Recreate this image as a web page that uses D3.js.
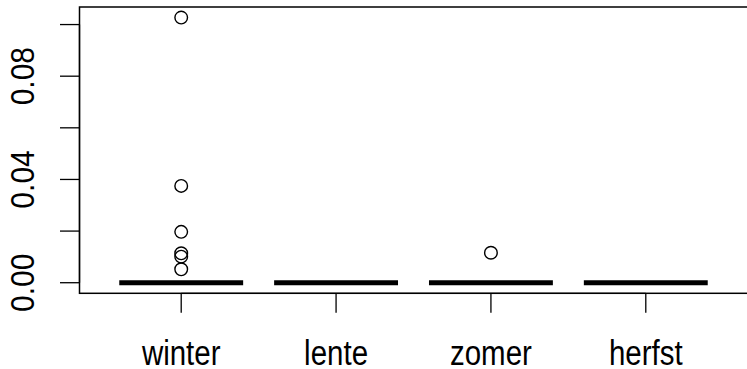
<!DOCTYPE html>
<html lang="en">
<head>
    <meta charset="UTF-8">
    <title>Boxplot per seizoen</title>
    <script src="https://d3js.org/d3.v7.min.js"></script>
    <style>
        body { margin: 0; background: white; }
        svg { display: block; }
        text { font-family: "Liberation Sans", Arial, sans-serif; fill: black; }
    </style>
</head>
<body>
<script>
// Data per season
var seasons = ['winter', 'lente', 'zomer', 'herfst'];
var q1 = [0, 0, 0, 0];
var medians = [0, 0, 0, 0];
var q3 = [0, 0, 0, 0];
var whiskerLow = [0, 0, 0, 0];
var whiskerHigh = [0, 0, 0, 0];
var outliers = [
    [0.1027, 0.0375, 0.0197, 0.0114, 0.0101, 0.0052],
    [],
    [0.0116],
    []
];
var yTicks = [0, 0.02, 0.04, 0.06, 0.08, 0.10];
var yLabelled = [0, 0.04, 0.08];

var svgWidth = 747, svgHeight = 369;
var plotLeft = 79.5, plotTop = 7, plotBottom = 293.3;

var svg = d3.select('body').append('svg')
    .attr('width', svgWidth)
    .attr('height', svgHeight);

// scales, R style: xlim 0.5..4.5 plus 4 percent
var x = d3.scaleLinear().domain([0.34, 4.66]).range([79, 748]);
var y = d3.scaleLinear().domain([-0.0041, 0.1068]).range([plotBottom, plotTop]);
var boxW = 0.8;

// frame
svg.append('rect')
    .attr('x', plotLeft)
    .attr('y', plotTop)
    .attr('width', 760 - plotLeft)
    .attr('height', plotBottom - plotTop)
    .attr('fill', 'none')
    .attr('stroke', 'black')
    .attr('stroke-width', 1.5);

// y axis
var yAxis = svg.append('g');
yAxis.append('line')
    .attr('x1', plotLeft).attr('x2', plotLeft)
    .attr('y1', y(yTicks[0])).attr('y2', y(yTicks[yTicks.length - 1]))
    .attr('stroke', 'black').attr('stroke-width', 1.3);
yAxis.selectAll('.ytick')
    .data(yTicks)
    .enter().append('line')
    .attr('x1', plotLeft - 19.5).attr('x2', plotLeft)
    .attr('y1', d => y(d)).attr('y2', d => y(d))
    .attr('stroke', 'black').attr('stroke-width', 1.3);
// labels a bit taller than wide, like the original
yAxis.selectAll('.ylab')
    .data(yLabelled)
    .enter().append('text')
    .attr('transform', d => 'translate(34,' + y(d) + ') rotate(-90) scale(1,1.08)')
    .attr('text-anchor', 'middle')
    .style('font-size', '30px')
    .text(d => d3.format('.2f')(d));

// x axis
var xAxis = svg.append('g');
xAxis.append('line')
    .attr('x1', x(1)).attr('x2', x(seasons.length))
    .attr('y1', plotBottom).attr('y2', plotBottom)
    .attr('stroke', 'black').attr('stroke-width', 1.3);
xAxis.selectAll('.xtick')
    .data(seasons)
    .enter().append('line')
    .attr('x1', (d, i) => x(i + 1)).attr('x2', (d, i) => x(i + 1))
    .attr('y1', plotBottom).attr('y2', plotBottom + 19.5)
    .attr('stroke', 'black').attr('stroke-width', 1.3);
xAxis.selectAll('.xlab')
    .data(seasons)
    .enter().append('text')
    .attr('transform', (d, i) => 'translate(' + x(i + 1) + ',365) scale(1,1.18)')
    .attr('text-anchor', 'middle')
    .style('font-size', '29.5px')
    .text(d => d);

// boxes
var g = svg.append('g');
seasons.forEach(function(s, i) {
    var cx = x(i + 1);
    var x0 = x(i + 1 - boxW / 2), x1 = x(i + 1 + boxW / 2);
    // whiskers
    g.append('line')
        .attr('x1', cx).attr('x2', cx)
        .attr('y1', y(whiskerLow[i])).attr('y2', y(q1[i]))
        .attr('stroke', 'black').attr('stroke-dasharray', '4,3');
    g.append('line')
        .attr('x1', cx).attr('x2', cx)
        .attr('y1', y(q3[i])).attr('y2', y(whiskerHigh[i]))
        .attr('stroke', 'black').attr('stroke-dasharray', '4,3');
    // box
    g.append('rect')
        .attr('x', x0).attr('width', x1 - x0)
        .attr('y', y(q3[i])).attr('height', y(q1[i]) - y(q3[i]))
        .attr('fill', 'none').attr('stroke', 'black');
    // median
    g.append('line')
        .attr('x1', x0).attr('x2', x1)
        .attr('y1', y(medians[i])).attr('y2', y(medians[i]))
        .attr('stroke', 'black').attr('stroke-width', 5);
    // outliers
    g.selectAll('.out' + i)
        .data(outliers[i])
        .enter().append('circle')
        .attr('cx', cx)
        .attr('cy', d => y(d))
        .attr('r', 6.3)
        .attr('fill', 'none')
        .attr('stroke', 'black')
        .attr('stroke-width', 1.4);
});
</script>
</body>
</html>
